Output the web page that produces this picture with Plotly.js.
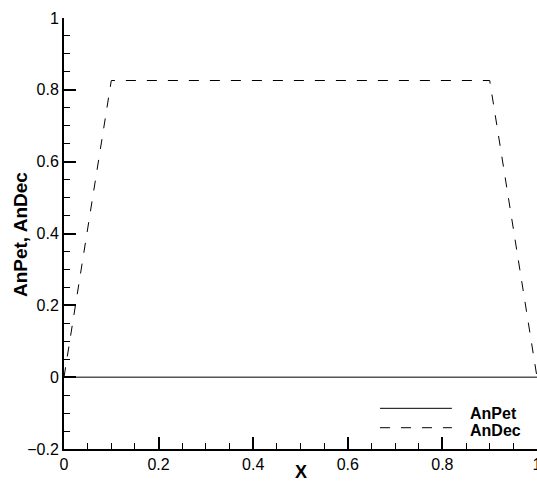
<!DOCTYPE html>
<html><head><meta charset="utf-8">
<script src="https://cdn.plot.ly/plotly-3.0.1.min.js"></script>
<style>html,body{margin:0;padding:0;background:#fff}</style>
</head><body>
<div id="chart" style="width:537px;height:484px"></div>
<script>
const xPet = [0, 1];
const yPet = [0, 0];
const xDec = [0, 0.1, 0.9, 1];
const yDec = [0, 0.826, 0.826, 0];
const seriesNames = ["AnPet", "AnDec"];
const xTitle = "X";
const yTitle = "AnPet, AnDec";

const DASH = '10px,11px';
const traces = [
  {x: xPet, y: yPet, mode: 'lines', name: seriesNames[0], line: {color: '#000', width: 1, dash: 'solid'}, showlegend: false},
  {x: xDec, y: yDec, mode: 'lines', name: seriesNames[1], line: {color: '#000', width: 1, dash: DASH}, showlegend: false}
];

const layout = {
  width: 537, height: 484,
  margin: {l: 64, r: 0, t: 18, b: 35},
  paper_bgcolor: '#fff', plot_bgcolor: '#fff',
  font: {family: 'Liberation Sans, Arial, sans-serif', color: '#000', size: 16},
  xaxis: {
    range: [0, 1], dtick: 0.2, tick0: 0, showgrid: false, zeroline: false,
    showline: true, linecolor: '#000', linewidth: 2,
    ticks: 'inside', ticklen: 12, tickwidth: 2, tickcolor: '#000',
    minor: {dtick: 0.05, ticks: 'inside', ticklen: 6, tickwidth: 1, tickcolor: '#000', showgrid: false},
    tickfont: {size: 16}, ticklabeloverflow: 'allow'
  },
  yaxis: {
    range: [-0.2, 1], dtick: 0.2, tick0: 0, showgrid: false, zeroline: false,
    showline: true, linecolor: '#000', linewidth: 2,
    ticks: 'inside', ticklen: 12, tickwidth: 2, tickcolor: '#000',
    minor: {dtick: 0.05, ticks: 'inside', ticklen: 6, tickwidth: 1, tickcolor: '#000', showgrid: false},
    tickfont: {size: 16}
  },
  shapes: [
    {type: 'line', xref: 'paper', yref: 'paper', x0: 0.668, x1: 0.820, y0: 0.0944, y1: 0.0944, line: {color: '#000', width: 1}},
    {type: 'line', xref: 'paper', yref: 'paper', x0: 0.668, x1: 0.820, y0: 0.0494, y1: 0.0494, line: {color: '#000', width: 1, dash: DASH}}
  ],
  annotations: [
    {xref: 'paper', yref: 'paper', x: 0.855, y: 0.0824, xanchor: 'left', yanchor: 'middle', text: '<b>' + seriesNames[0] + '</b>', showarrow: false, font: {size: 16}},
    {xref: 'paper', yref: 'paper', x: 0.855, y: 0.0418, xanchor: 'left', yanchor: 'middle', text: '<b>' + seriesNames[1] + '</b>', showarrow: false, font: {size: 16}},
    {xref: 'paper', yref: 'paper', x: 0.5, y: -0.0534, xanchor: 'center', yanchor: 'middle', text: '<b>' + xTitle + '</b>', showarrow: false, font: {size: 18}},
    {xref: 'paper', yref: 'paper', x: -0.093, y: 0.4965, xanchor: 'center', yanchor: 'middle', textangle: -90, text: '<b>' + yTitle + '</b>', showarrow: false, font: {size: 19}}
  ],
  showlegend: false
};

Plotly.newPlot('chart', traces, layout, {displayModeBar: false, staticPlot: true});
</script>
</body></html>
